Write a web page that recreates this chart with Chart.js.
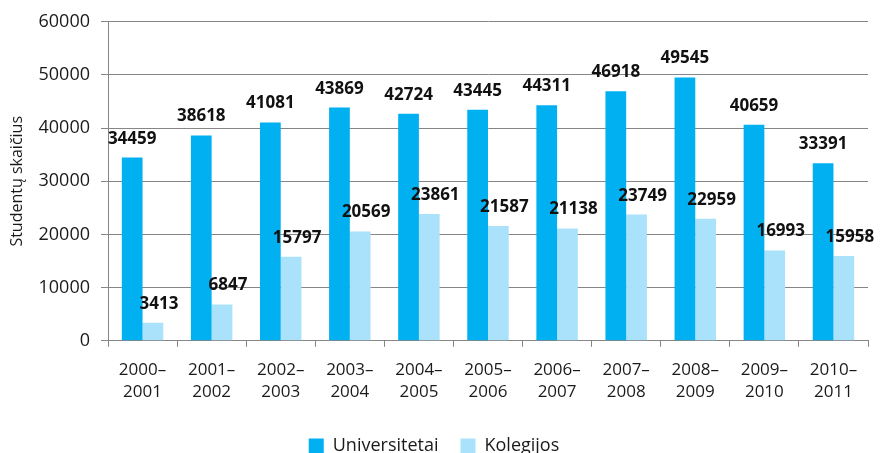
<!DOCTYPE html>
<html>
<head>
<meta charset="utf-8">
<script src="https://cdn.jsdelivr.net/npm/chart.js@4"></script>
<style>
    html, body { margin: 0; padding: 0; background: #fff; }
    #wrap { width: 885px; height: 453px; }
</style>
</head>
<body>
<div id="wrap"><canvas id="chart"></canvas></div>
<script>
// Chart data
const years = [
    ['2000–', '2001'], ['2001–', '2002'], ['2002–', '2003'], ['2003–', '2004'],
    ['2004–', '2005'], ['2005–', '2006'], ['2006–', '2007'], ['2007–', '2008'],
    ['2008–', '2009'], ['2009–', '2010'], ['2010–', '2011']
];
const universitetai = [34459, 38618, 41081, 43869, 42724, 43445, 44311, 46918, 49545, 40659, 33391];
const kolegijos = [3413, 6847, 15797, 20569, 23861, 21587, 21138, 23749, 22959, 16993, 15958];
const seriesNames = ['Universitetai', 'Kolegijos'];

const FONT = "'Open Sans', 'Liberation Sans', sans-serif";

// Draw value labels above bars
const valueLabels = {
    id: 'valueLabels',
    afterDatasetsDraw(chart) {
        const ctx = chart.ctx;
        ctx.save();
        ctx.font = 'bold 17px ' + FONT;
        ctx.fillStyle = '#111';
        ctx.textAlign = 'center';
        ctx.textBaseline = 'alphabetic';
        chart.data.datasets.forEach((ds, i) => {
            const shift = i === 1 ? 6 : 0;
            chart.getDatasetMeta(i).data.forEach((bar, j) => {
                ctx.fillText(String(ds.data[j]), bar.x + shift, bar.y - 14);
            });
        });
        ctx.restore();
    }
};

new Chart(document.getElementById('chart'), {
    type: 'bar',
    data: {
        labels: years,
        datasets: [
            {
                label: seriesNames[0],
                data: universitetai,
                backgroundColor: '#00B0F0',
                barPercentage: 1,
                categoryPercentage: 0.6
            },
            {
                label: seriesNames[1],
                data: kolegijos,
                backgroundColor: '#A9E2FA',
                barPercentage: 1,
                categoryPercentage: 0.6
            }
        ]
    },
    options: {
        responsive: true,
        maintainAspectRatio: false,
        animation: false,
        layout: { padding: { top: 13, right: 17, left: 0, bottom: -12 } },
        plugins: {
            legend: {
                position: 'bottom',
                labels: {
                    font: { family: FONT, size: 18 },
                    color: '#1a1a1a',
                    boxWidth: 15,
                    boxHeight: 15,
                    padding: 22
                }
            },
            tooltip: { enabled: false }
        },
        scales: {
            x: {
                grid: {
                    drawOnChartArea: false,
                    drawTicks: true,
                    tickLength: 6,
                    color: '#868686',
                    offset: true
                },
                border: { color: '#868686', width: 1 },
                ticks: {
                    font: { family: FONT, size: 17, lineHeight: 1.3 },
                    color: '#1a1a1a',
                    maxRotation: 0,
                    autoSkip: false,
                    padding: 12
                }
            },
            y: {
                min: 0,
                max: 60000,
                afterFit: s => { s.width = 108; },
                ticks: {
                    stepSize: 10000,
                    callback: v => String(v),
                    font: { family: FONT, size: 18 },
                    color: '#1a1a1a',
                    padding: 11
                },
                grid: {
                    color: '#868686',
                    drawTicks: true,
                    tickLength: 7
                },
                border: { color: '#868686', width: 1 },
                title: {
                    display: true,
                    text: 'Studentų skaičius',
                    font: { family: FONT, size: 16 },
                    color: '#1a1a1a',
                    padding: { top: 8, bottom: 0 }
                }
            }
        }
    },
    plugins: [valueLabels]
});
</script>
</body>
</html>
